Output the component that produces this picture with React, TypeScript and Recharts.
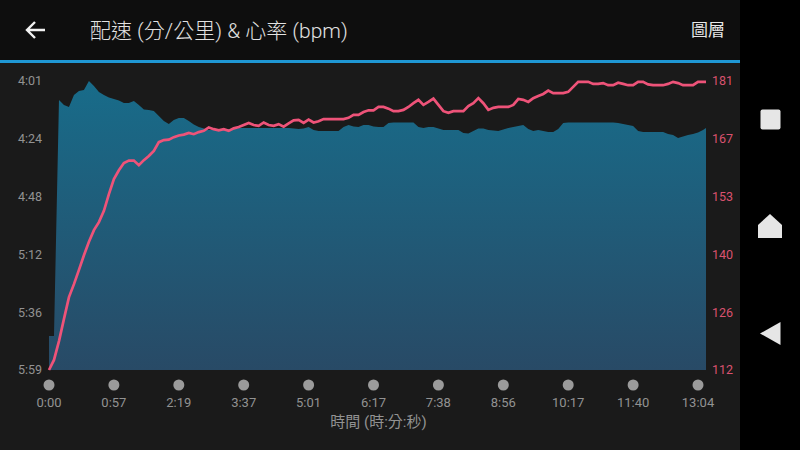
import React from 'react'
import { ComposedChart, Area, Line, XAxis, YAxis, Label } from 'recharts'

// pace in seconds per km, heart rate in bpm, one reading per sample along the track
const paceSeconds = [
  345.1, 345.1, 248.8, 250.8, 251.6, 246.7, 245.1, 244.7, 241, 243,
  245.5, 246.7, 247.7, 248.3, 249, 250, 250, 249.2, 250.8, 252.6,
  252.8, 253.2, 255.3, 257.3, 258.6, 256.9, 256.1, 256.1, 257.3, 258.8,
  259.8, 260.4, 261, 261, 261, 260.6, 260.6, 260.6, 260.2, 260.2,
  260.2, 260.2, 260.2, 260.2, 260.2, 260.2, 260.2, 260.2, 260.2, 260.4,
  260.6, 260.4, 259.8, 261, 261.4, 261.4, 261.4, 261.4, 261.4, 259.8,
  259, 259.6, 259.8, 259, 259, 259.6, 259.8, 259.8, 258.1, 257.9,
  257.9, 257.9, 257.9, 257.9, 259.8, 260.2, 259.8, 259.8, 260.4, 261,
  261, 261, 261, 262.2, 262.4, 261.4, 260.4, 260.4, 261, 261.2,
  261.4, 260.8, 260.2, 259.8, 259.4, 259, 260.6, 261.4, 261, 261.4,
  261.8, 261.8, 260.6, 258.1, 257.9, 257.9, 257.9, 257.9, 257.9, 257.9,
  257.9, 257.9, 257.9, 257.9, 258.1, 258.6, 259, 259.4, 261.4, 261.8,
  261.8, 261.8, 261.8, 261.8, 262.6, 263, 264.3, 263.7, 263, 262.6,
  262, 261, 260.2,
]

const heartRate = [
  112, 114.4, 118.9, 124.2, 129.4, 132.5, 135.9, 139.4, 142.6, 145.4,
  147.3, 150, 154, 157.6, 159.7, 161.4, 162, 162, 160.9, 162.1,
  163.1, 164.3, 166.4, 166.9, 167, 167.6, 168, 168.2, 168.6, 168.3,
  168.8, 169.1, 169.9, 169.5, 169.2, 169.5, 169.1, 169.7, 170, 170.5,
  171, 170.5, 170.3, 171.1, 170.5, 170.3, 170.7, 170.1, 170.9, 171.6,
  171.7, 171, 171.8, 171.1, 171.4, 171.9, 171.9, 171.9, 171.9, 171.9,
  172.2, 172.9, 172.9, 173.6, 174, 174, 174.8, 174.8, 174.4, 173.8,
  173.8, 174.1, 174.8, 175.7, 176.5, 175.3, 176, 176.8, 175.3, 173.8,
  173.4, 173.8, 173.8, 173.8, 175, 175.7, 176.9, 175.7, 174.1, 174.6,
  174.8, 174.8, 174.8, 175.3, 176.7, 176.5, 176, 176.9, 177.4, 177.9,
  178.7, 178.1, 178.1, 178.1, 178.4, 179.6, 180.8, 180.8, 180.8, 180.3,
  180.3, 180.5, 180, 180, 180.6, 180.3, 180, 180, 180.8, 180.8,
  180.2, 180, 180, 180, 180.3, 180.8, 180.5, 180, 180, 180,
  180.8, 180.8, 180.8,
]

const timeLabels = ['0:00', '0:57', '2:19', '3:37', '5:01', '6:17', '7:38', '8:56', '10:17', '11:40', '13:04']
const timeTicks = [0, 13, 26, 39, 52, 65, 78, 91, 104, 117, 130]
const paceLabels = ['4:01', '4:24', '4:48', '5:12', '5:36', '5:59']
const paceTicks = [241, 264.6, 288.2, 311.8, 335.4, 359]
const heartTicks = [181, 167.2, 153.4, 139.6, 125.8, 112]
const lastSample = 131.6

const data = paceSeconds.map((pace, i) => ({
  sample: i === paceSeconds.length - 1 ? lastSample : i,
  pace,
  hr: heartRate[i],
}))

const GREY = '#929292'
const PINK = '#ee5379'
const FONT = 'Roboto, "Noto Sans CJK TC", sans-serif'

const TimeTick = (props: any) => {
  const { x, index } = props
  return (
    <g>
      <circle cx={x} cy={385} r={5.5} fill="#9b9b9b" />
      <text x={x} y={407} textAnchor="middle" fontSize={13} fill={GREY} fontFamily={FONT}>
        {timeLabels[index]}
      </text>
    </g>
  )
}

export default function App() {
  return (
    <div style={{ position: 'absolute', left: 0, top: 0, width: 800, height: 450, background: '#000', overflow: 'hidden', fontFamily: FONT }}>
      <div style={{ position: 'absolute', left: 0, top: 0, width: 740, height: 60, background: '#0e0e0e' }} />
      <div style={{ position: 'absolute', left: 0, top: 60, width: 740, height: 3, background: '#1f97d4' }} />
      <div style={{ position: 'absolute', left: 0, top: 63, width: 740, height: 387, background: '#1a1a1a' }} />

      <svg style={{ position: 'absolute', left: 24, top: 19 }} width={24} height={22}>
        <path d="M21 11H3M11 3L3 11L11 19" fill="none" stroke="#f2f2f2" strokeWidth={2.4} />
      </svg>
      <div style={{ position: 'absolute', left: 90, top: 17, fontSize: 21, lineHeight: '28px', color: '#e2e2e2', fontWeight: 300, whiteSpace: 'nowrap' }}>
        配速 (分/公里) &amp; 心率 (bpm)
      </div>
      <div style={{ position: 'absolute', left: 691, top: 19, fontSize: 17, lineHeight: '22px', color: '#e8e8e8', whiteSpace: 'nowrap' }}>
        圖層
      </div>

      <div style={{ position: 'absolute', left: 0, top: 0 }}>
        <ComposedChart
          width={740}
          height={450}
          data={data}
          margin={{ top: 81, right: 0, left: 0, bottom: 30 }}
        >
          <defs>
            <linearGradient id="paceFill" x1="0" y1="0" x2="0" y2="1">
              <stop offset="0%" stopColor="#186c8a" />
              <stop offset="100%" stopColor="#284a66" />
            </linearGradient>
          </defs>
          <XAxis
            xAxisId="t"
            dataKey="sample"
            type="number"
            domain={[0, lastSample]}
            ticks={timeTicks}
            interval={0}
            height={50}
            axisLine={false}
            tickLine={false}
            tick={<TimeTick />}
          >
            <Label value="時間 (時:分:秒)" position="insideBottom" offset={-7} dx={1} fontSize={15} fill={GREY} fontFamily={FONT} />
          </XAxis>
          <YAxis
            yAxisId="pace"
            orientation="left"
            width={49}
            reversed
            domain={[241, 359]}
            ticks={paceTicks}
            interval={0}
            axisLine={false}
            tickLine={false}
            tickSize={0}
            tickMargin={7}
            tick={{ fontSize: 12.5, fill: GREY, fontFamily: FONT }}
            tickFormatter={(_v: number, i: number) => paceLabels[i]}
          />
          <YAxis
            yAxisId="hr"
            orientation="right"
            width={34}
            domain={[112, 181]}
            ticks={heartTicks}
            interval={0}
            axisLine={false}
            tickLine={false}
            tickSize={0}
            tickMargin={6}
            tick={{ fontSize: 12.5, fill: '#d9526f', fontFamily: FONT }}
            tickFormatter={(v: number) => String(Math.round(v))}
          />
          <Area
            xAxisId="t"
            yAxisId="pace"
            type="linear"
            dataKey="pace"
            baseValue={359}
            stroke="none"
            fill="url(#paceFill)"
            fillOpacity={1}
            dot={false}
            activeDot={false}
            isAnimationActive={false}
          />
          <Line
            xAxisId="t"
            yAxisId="hr"
            type="linear"
            dataKey="hr"
            stroke={PINK}
            strokeWidth={2.7}
            dot={false}
            activeDot={false}
            isAnimationActive={false}
          />
        </ComposedChart>
      </div>

      <svg style={{ position: 'absolute', left: 740, top: 0 }} width={60} height={450}>
        <rect x={20.5} y={109.5} width={20} height={20} rx={2} fill="#e6e6e6" />
        <path d="M30 214L42 225V238H18V225Z" fill="#e6e6e6" />
        <path d="M40.5 322V345L20 333.5Z" fill="#e6e6e6" />
      </svg>
    </div>
  )
}
